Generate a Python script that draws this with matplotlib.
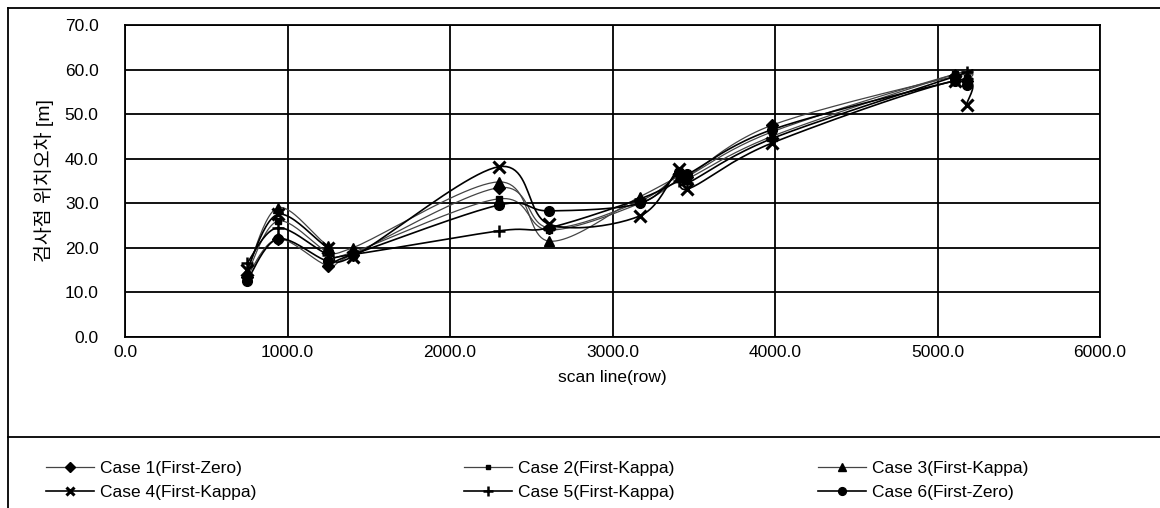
import numpy as np
import matplotlib.pyplot as plt
from matplotlib.lines import Line2D

plt.rcParams['font.family'] = ['Liberation Sans', 'Noto Sans CJK KR', 'DejaVu Sans']

# check point rows (scan line)
rows = [750, 940, 1250, 1400, 2300, 2610, 3170, 3410, 3460, 3980, 5110, 5180]

case1 = [13.5, 22.0, 16.0, 18.5, 33.5, 24.5, 30.5, 36.5, 36.0, 47.5, 58.5, 57.5]
case2 = [14.0, 26.0, 19.0, 19.0, 31.0, 24.0, 30.0, 35.5, 36.0, 46.0, 59.0, 58.0]
case3 = [14.5, 29.0, 20.5, 20.0, 34.8, 21.5, 31.5, 36.0, 35.5, 45.0, 59.0, 58.5]
case4 = [15.0, 27.5, 20.0, 18.0, 38.2, 25.3, 27.2, 37.8, 33.2, 43.5, 57.5, 52.0]
case5 = [16.5, 24.5, 18.5, 18.5, 23.8, 24.5, 31.0, 35.0, 34.5, 44.5, 58.5, 59.5]
case6 = [12.5, 22.0, 17.0, 18.5, 29.6, 28.3, 30.0, 37.0, 36.5, 46.5, 57.5, 56.5]

labels = ["Case 1(First-Zero)", "Case 2(First-Kappa)", "Case 3(First-Kappa)",
          "Case 4(First-Kappa)", "Case 5(First-Kappa)", "Case 6(First-Zero)"]

x_ticks = [0, 1000, 2000, 3000, 4000, 5000, 6000]
y_ticks = [0, 10, 20, 30, 40, 50, 60, 70]


def smooth_curve(x, y, n=24):
    """Excel-like smoothed line (Catmull-Rom through the points)."""
    x = np.asarray(x, float)
    y = np.asarray(y, float)
    px = np.concatenate([[x[0]], x, [x[-1]]])
    py = np.concatenate([[y[0]], y, [y[-1]]])
    xs, ys = [], []
    t = np.linspace(0, 1, n)
    for i in range(1, len(px) - 2):
        p0, p1, p2, p3 = (np.array([px[j], py[j]]) for j in range(i - 1, i + 3))
        c1 = p1 + (p2 - p0) / 6.0
        c2 = p2 - (p3 - p1) / 6.0
        pts = ((1 - t) ** 3)[:, None] * p1 + (3 * (1 - t) ** 2 * t)[:, None] * c1 \
            + (3 * (1 - t) * t ** 2)[:, None] * c2 + (t ** 3)[:, None] * p2
        xs.extend(pts[:, 0])
        ys.extend(pts[:, 1])
    return np.array(xs), np.array(ys)


styles = [
    dict(marker="D", ms=6, color="#444444", lw=0.9),
    dict(marker="s", ms=4, color="#444444", lw=0.9),
    dict(marker="^", ms=7, color="#444444", lw=0.9),
    dict(marker="x", ms=8, mew=2.2, color="black", lw=1.2),
    dict(marker="+", ms=9, mew=1.8, color="black", lw=1.2),
    dict(marker="o", ms=7, color="black", lw=1.2),
]

fig = plt.figure(figsize=(11.6, 5.08), dpi=100)
ax = fig.add_axes([125 / 1160, 1 - 337 / 508, (1100 - 125) / 1160, (337 - 25) / 508])

handles = []
for yv, st, lab in zip([case1, case2, case3, case4, case5, case6], styles, labels):
    sx, sy = smooth_curve(rows, yv)
    ax.plot(sx, sy, color=st["color"], lw=st["lw"], zorder=3)
    ax.plot(rows, yv, ls="none", marker=st["marker"], ms=st["ms"],
            mew=st.get("mew", 1.0), color="black", zorder=4)
    h = Line2D([], [], color=st["color"], lw=st["lw"], marker=st["marker"],
               ms=st["ms"] * 0.8, mew=st.get("mew", 1.0), mfc="black", mec="black")
    handles.append(h)

ax.set_xlim(0, 6000)
ax.set_ylim(0, 70)
ax.set_xticks(x_ticks)
ax.set_yticks(y_ticks)
ax.set_xticklabels([f"{v:.1f}" for v in x_ticks])
ax.set_yticklabels([f"{v:.1f}" for v in y_ticks])
ax.tick_params(length=0, labelsize=12.5)
ax.tick_params(axis="y", pad=19)
ax.tick_params(axis="x", pad=6)
ax.grid(True, color="black", lw=1.3)
ax.set_axisbelow(True)
for s in ax.spines.values():
    s.set_color("black")
    s.set_linewidth(1.3)

ax.set_xlabel("scan line(row)", fontsize=12.5, labelpad=7)
ax.set_ylabel("검사점 위치오차 [m]", fontsize=14, labelpad=8)

# outer frame and legend separator
fw, fh = 1160, 508
for (x0, y0, x1, y1) in [(8, 8, 1160, 8), (8, 8, 8, 508), (8, 437, 1160, 437)]:
    fig.add_artist(Line2D([x0 / fw, x1 / fw], [1 - y0 / fh, 1 - y1 / fh],
                          color="black", lw=1.3))

# legend, three columns
col_x = [37, 455, 809]
for c in range(3):
    fig.legend([handles[c], handles[c + 3]], [labels[c], labels[c + 3]],
               loc="upper left", bbox_to_anchor=(col_x[c] / fw, 1 - 452 / fh),
               frameon=False, fontsize=12.5, handlelength=2.8,
               handletextpad=0.3, labelspacing=0.5, borderpad=0)

fig.savefig("out.png", dpi=100)
